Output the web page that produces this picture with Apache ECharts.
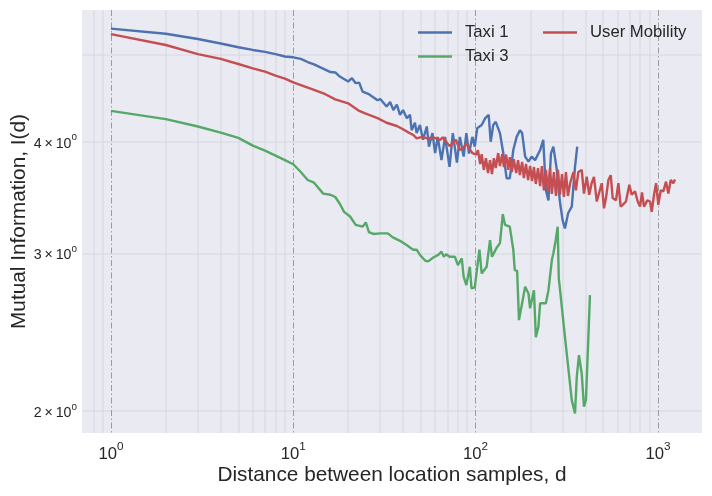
<!DOCTYPE html>
<html>
<head>
    <meta charset="utf-8">
    <title>Mutual Information vs distance</title>
    <script src="https://cdn.jsdelivr.net/npm/echarts@6/dist/echarts.min.js"></script>
    <style>
        * { margin: 0; padding: 0; }
        html, body { background: #fff; }
        #main { width: 712px; height: 496px; }
    </style>
</head>
<body>
<div id="main"></div>
<script>
    // values, [d, I(d)]
    var taxi1 = [
        [1,5.35],[2,5.28],[3,5.21],[4,5.15],[5,5.10],[6,5.065],[7,5.04],[8,5.01],[9,4.98],[10,4.97],
        [11,4.95],[12,4.91],[13,4.88],[16,4.785],[17,4.78],[18,4.73],[20,4.67],[21,4.71],[22,4.65],[23,4.656],
        [24,4.55],[26,4.52],[29,4.45],[30,4.465],[32.5,4.38],[34,4.43],[35.4,4.34],[37,4.40],[38.5,4.285],[40,4.34],
        [42,4.25],[43.7,4.285],[44.6,4.12],[46.5,4.20],[47.5,4.09],[49.5,4.175],[51.5,4.02],[54,4.16],[55.5,3.95],[58,4.09],
        [60,3.885],[62,4.05],[65,3.815],[68,4.05],[72,3.75],[75,4.09],[79,3.79],[82,4.05],[86,3.85],[89,4.09],
        [92,3.88],[96,4.05],[99,3.95],[102,4.14],[108,4.175],[113,4.25],[118,4.285],[121,4.00],[125,4.175],[129,4.21],
        [136,4.09],[142,3.88],[148,3.64],[154,3.64],[161,3.915],[168,4.05],[175,4.12],[180,4.09],[187,3.85],[195,3.80],
        [203,3.85],[212,3.815],[226,3.915],[235,4.02],[243,3.53],[251,3.44],[259,3.88],[267,3.95],[279,3.72],[290,3.43],
        [300,3.27],[309,3.20],[322,3.33],[337,3.385],[351,3.75],[361,3.95]
    ];
    var taxi3 = [
        [1,4.33],[2,4.24],[3,4.16],[4,4.095],[5,4.04],[6,3.96],[7,3.91],[8,3.86],[9,3.815],[10,3.775],
        [11,3.70],[12,3.625],[13,3.60],[14.6,3.50],[16,3.49],[17,3.47],[18,3.41],[19,3.34],[20.5,3.30],[22,3.23],
        [24,3.215],[25,3.25],[26,3.17],[27.5,3.155],[30,3.16],[33,3.16],[35,3.13],[38.5,3.10],[42,3.065],[45.5,3.03],
        [47.5,3.03],[49.5,2.99],[53,2.945],[55,2.94],[58.6,2.97],[62.4,2.99],[65,3.015],[67,2.975],[69,2.995],[72,2.975],
        [77,2.975],[80,2.912],[84,2.963],[86,2.827],[89,2.766],[93,2.90],[95,2.743],[99,2.75],[105,3.03],[108,2.85],
        [115,2.90],[120,3.105],[123,2.975],[131,3.05],[136,3.08],[141,3.32],[145,3.23],[154,3.215],[161,3.03],[164,2.875],
        [169,2.87],[173,2.528],[177,2.524],[187,2.754],[195,2.707],[199,2.606],[209,2.73],[214,2.42],[221,2.485],[226,2.64],
        [243,2.64],[251,2.73],[262,2.95],[267,3.00],[275,3.105],[282,3.215],[286,2.815],[290,2.743],[305,2.485],[322,2.242],
        [337,2.058],[351,1.989],[359,2.185],[369,2.31],[382,2.204],[393,2.023],[403,2.058],[424,2.696]
    ];
    var userMobility = [
        [1,5.275],[2,5.13],[3,5.01],[4,4.95],[5,4.885],[6,4.83],[7,4.79],[8,4.74],[9,4.705],[10,4.66],
        [13,4.57],[15,4.52],[17,4.46],[20,4.415],[23,4.33],[25,4.30],[29,4.25],[32.5,4.20],[37,4.165],[40,4.13],
        [43,4.095],[45.5,4.07],[47.5,4.035],[51,4.05],[54,4.035],[58.6,4.045],[64,4.02],[66,4.045],[69,4.00],[72,3.955],
        [75,3.985],[78,4.02],[82,3.915],[86,3.94],[89,3.985],[93,3.92],[96,3.885],[101,3.87],
        [103,3.915],[106,3.777],[108,3.875],[111,3.72],[114,3.835],[117,3.69],[120,3.815],[123,3.681],[126,3.835],[129,3.738],
        [133,3.885],[136,3.758],[140,3.875],[143,3.748],[147,3.87],[151,3.72],[154,3.845],[158,3.70],[162,3.825],[167,3.69],
        [171,3.815],[175,3.671],[180,3.797],[184,3.643],[189,3.777],[194,3.625],[199,3.758],[204,3.615],[209,3.748],[214,3.588],
        [220,3.738],[226,3.569],[231,3.758],[237,3.53],[243,3.72],[250,3.515],[256,3.738],[262,3.497],[269,3.70],[276,3.479],
        [283,3.72],[290,3.49],[298,3.681],[305,3.470],[313,3.70],[321,3.479],
        [330,3.595],[344,3.70],[355,3.53],[366,3.70],[382,3.72],[393,3.50],[407,3.655],[420,3.49],[433,3.595],[446,3.655],
        [462,3.43],[492,3.595],[506,3.37],[519,3.46],[535,3.625],[551,3.67],[565,3.46],[589,3.44],[607,3.595],[625,3.385],
        [641,3.40],[668,3.43],[697,3.58],[718,3.49],[749,3.52],[775,3.43],[798,3.385],[818,3.51],[839,3.385],[875,3.44],
        [905,3.43],[925,3.34],[952,3.49],[977,3.595],[1005,3.40],[1036,3.53],[1071,3.52],[1108,3.61],[1141,3.50],[1176,3.625],
        [1215,3.595],[1241,3.63]
    ];

    var xMajorTicks = [1, 10, 100, 1000];
    var xMinorTicks = [0.8, 0.9, 2, 3, 4, 5, 6, 7, 8, 9, 20, 30, 40, 50, 60, 70, 80, 90,
                       200, 300, 400, 500, 600, 700, 800, 900];
    var yTickLabels = [2, 3, 4];
    var yGridTicks = [2, 3, 4, 5];

    var textColor = '#262626';
    var font = 'Liberation Sans';
    var minorGrid = {color: 'rgba(212,212,222,0.6)', width: 1.5, type: 'solid'};

    var chart = echarts.init(document.getElementById('main'), null, {renderer: 'canvas'});

    var supRich = {
        b: {fontSize: 16.7, lineHeight: 22, verticalAlign: 'bottom', color: textColor, fontFamily: font},
        s: {fontSize: 11.7, lineHeight: 12.5, verticalAlign: 'top', color: textColor, fontFamily: font}
    };
    var supRichSmall = {
        b: {fontSize: 14.2, lineHeight: 18, verticalAlign: 'bottom', color: textColor, fontFamily: font},
        s: {fontSize: 9.9, lineHeight: 10.5, verticalAlign: 'top', color: textColor, fontFamily: font}
    };
    var legendText = {fontSize: 16.7, lineHeight: 16, color: textColor, fontFamily: font, padding: [0, 0, 0, 8]};

    var option = {
        animation: false,
        backgroundColor: '#ffffff',
        textStyle: {fontFamily: font, color: textColor},
        grid: {
            left: 82, right: 10, top: 10, bottom: 63,
            outerBoundsMode: 'none', containLabel: false,
            show: true, backgroundColor: '#EAEAF2', borderWidth: 0
        },
        legend: [
            {
                data: ['Taxi 1', 'Taxi 3'],
                orient: 'vertical', icon: 'rect',
                left: 418, top: 24, padding: 0,
                itemWidth: 34, itemHeight: 2.4, itemGap: 7,
                textStyle: legendText
            },
            {
                data: ['User Mobility'],
                orient: 'vertical', icon: 'rect',
                left: 543, top: 24, padding: 0,
                itemWidth: 34, itemHeight: 2.4, itemGap: 7,
                textStyle: legendText
            }
        ],
        xAxis: [
            {
                type: 'log', logBase: 10,
                min: 0.694, max: 1745,
                name: 'Distance between location samples, d',
                nameLocation: 'middle', nameGap: 30, nameMoveOverlap: false,
                nameTextStyle: {fontSize: 20.8, lineHeight: 24, color: textColor, fontFamily: font},
                axisLine: {show: false},
                axisTick: {show: false, customValues: xMinorTicks},
                axisLabel: {
                    customValues: xMajorTicks,
                    margin: 8,
                    formatter: function (v) {
                        return '{b|10}{s|' + Math.round(Math.log10(v)) + '}';
                    },
                    rich: supRich
                },
                splitLine: {show: true, lineStyle: minorGrid}
            },
            {
                type: 'log', logBase: 10,
                min: 0.694, max: 1745,
                position: 'top',
                axisLine: {show: false},
                axisTick: {show: false, customValues: xMajorTicks},
                axisLabel: {show: false, customValues: xMajorTicks},
                splitLine: {show: true, lineStyle: {color: '#9b9b9b', width: 1, type: [6, 2.5, 1.5, 2.5]}}
            }
        ],
        yAxis: {
            type: 'log', logBase: 10,
            min: 1.891, max: 5.613,
            name: 'Mutual Information, I(d)',
            nameLocation: 'middle', nameGap: 51, nameMoveOverlap: false,
            nameTextStyle: {fontSize: 20.8, lineHeight: 24, color: textColor, fontFamily: font},
            axisLine: {show: false},
            axisTick: {show: false, customValues: yGridTicks},
            axisLabel: {
                customValues: yTickLabels,
                margin: 5,
                formatter: function (v) {
                    return '{b|' + v + '\u2009×\u200910}{s|0}';
                },
                rich: supRichSmall
            },
            splitLine: {show: true, lineStyle: minorGrid}
        },
        series: [
            {
                name: 'Taxi 1', type: 'line', data: taxi1,
                symbol: 'none', color: '#4C72B0',
                lineStyle: {width: 2.4, color: '#4C72B0'}
            },
            {
                name: 'Taxi 3', type: 'line', data: taxi3,
                symbol: 'none', color: '#55A868',
                lineStyle: {width: 2.4, color: '#55A868'}
            },
            {
                name: 'User Mobility', type: 'line', data: userMobility,
                symbol: 'none', color: '#C44E52',
                lineStyle: {width: 2.4, color: '#C44E52'}
            }
        ]
    };
    chart.setOption(option);
</script>
</body>
</html>
